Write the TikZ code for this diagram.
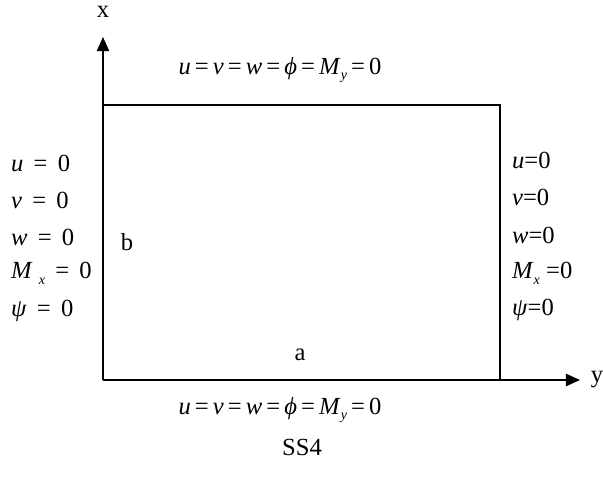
\documentclass[tikz,border=0pt]{standalone}
\usepackage{fontspec}
\setmainfont{Liberation Serif}
\usetikzlibrary{positioning, arrows.meta}
\newcommand{\vi}[1]{\textit{#1}}
\newcommand{\lowsub}[1]{\raisebox{-0.5ex}{\footnotesize\itshape #1}}

\begin{document}
\begin{tikzpicture}[
    axe/.style={-{Triangle[length=8pt,width=7pt]}, line width=0.8pt},
    bord/.style={line width=0.8pt},
    cl/.style={font=\fontsize{14}{16}\selectfont, inner sep=1pt, anchor=west},
    lab/.style={font=\fontsize{14}{16}\selectfont, inner sep=1pt}]

  \useasboundingbox (0,0) rectangle (12.06,9.6);

  % --- plaque et axes ---
  \coordinate (O)  at (2.06,2.0);
  \coordinate (TR) at (10.0,7.5);
  \coordinate (xt) at (2.06,8.86);
  \coordinate (yt) at (11.6,2.0);
  \draw[bord] (O |- TR) -- (TR) -- (TR |- O);
  \draw[axe] (O) -- (xt);
  \draw[axe] (O) -- (yt);
  \node[lab] (xl) at (2.06,9.36) {x};
  \node[lab] (yl) at (11.94,2.0) {y};
  \node[lab] (a) at (6.0,2.5) {a};
  \node[lab] (b) at (2.54,4.76) {b};

  % --- bords x = 0 et x = a ---
  \node[lab] (haut) at (5.6,8.2)
    {\vi{u}\,=\,\vi{v}\,=\,\vi{w}\,=\,\vi{ϕ}\,=\,\vi{M}\lowsub{y}\,=\,0};
  \node[lab] (bas) at (5.6,1.4)
    {\vi{u}\,=\,\vi{v}\,=\,\vi{w}\,=\,\vi{ϕ}\,=\,\vi{M}\lowsub{y}\,=\,0};
  \node[lab] (cas) at (6.04,0.66) {SS4};

  % --- bord y = 0 ---
  \node[cl] (g1) at (0.18,6.34) {\vi{u} \,=\, 0};
  \node[cl] (g2) at (0.18,5.60) {\vi{v} \,=\, 0};
  \node[cl] (g3) at (0.18,4.86) {\vi{w} \,=\, 0};
  \node[cl] (g4) at (0.18,4.14) {\vi{M} \lowsub{x} \,=\, 0};
  \node[cl] (g5) at (0.18,3.38) {\vi{ψ} \,=\, 0};

  % --- bord y = b ---
  \node[cl] (d1) at (10.2,6.40) {\vi{u}=0};
  \node[cl] (d2) at (10.2,5.66) {\vi{v}=0};
  \node[cl] (d3) at (10.2,4.90) {\vi{w}=0};
  \node[cl] (d4) at (10.2,4.14) {\vi{M}\lowsub{x} =0};
  \node[cl] (d5) at (10.2,3.40) {\vi{ψ}=0};
\end{tikzpicture}
\end{document}
